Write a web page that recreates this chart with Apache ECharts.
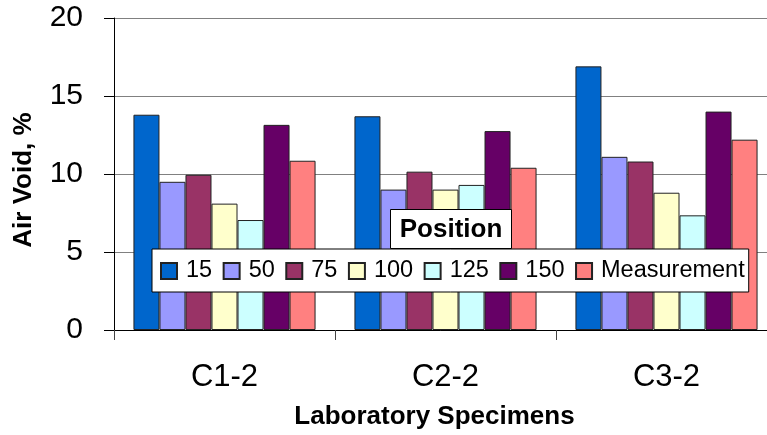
<!DOCTYPE html>
<html>
<head>
<meta charset="utf-8">
<script src="https://cdn.jsdelivr.net/npm/echarts@6/dist/echarts.min.js"></script>
<style>html,body{margin:0;padding:0;background:#fff}#c{width:767px;height:435px}</style>
</head>
<body>
<div id="c"></div>
<script>
const categories = ['C1-2', 'C2-2', 'C3-2'];
const seriesNames = ['15', '50', '75', '100', '125', '150', 'Measurement'];
const s15 = [13.8, 13.7, 16.9];
const s50 = [9.5, 9.0, 11.1];
const s75 = [9.95, 10.15, 10.8];
const s100 = [8.1, 9.0, 8.8];
const s125 = [7.05, 9.3, 7.35];
const s150 = [13.15, 12.75, 14.0];
const sMeas = [10.85, 10.4, 12.2];
const yTicks = [0, 5, 10, 15, 20];
const colors = ['#0066CC', '#9999FF', '#993366', '#FFFFCC', '#CCFFFF', '#660066', '#FF8080'];
const values = [s15, s50, s75, s100, s125, s150, sMeas];

const chart = echarts.init(document.getElementById('c'), null, {renderer: 'canvas'});
const FONT = 'Liberation Sans, Arial, sans-serif';
chart.setOption({
  animation: false,
  textStyle: {fontFamily: FONT},
  grid: {left: 114, top: 18, width: 663, height: 312, containLabel: false, outerBoundsMode: 'none'},
  legend: {
    data: seriesNames,
    left: 152, top: 249,
    padding: [10, 4, 9, 8],
    itemWidth: 16, itemHeight: 16, itemGap: 10.5,
    backgroundColor: '#fff', borderColor: '#000', borderWidth: 1, borderRadius: 0,
    icon: 'rect',
    textStyle: {fontSize: 23.5, color: '#000', fontFamily: FONT, padding: [0, 0, 0, 4]}
  },
  graphic: [
    {type: 'rect', z: 100, shape: {x: 390.5, y: 209.5, width: 121, height: 39}, style: {fill: '#fff', stroke: '#000', lineWidth: 1}},
    {type: 'text', z: 101, x: 451, y: 229.5, style: {text: 'Position', fontSize: 26, fontWeight: 'bold', fontFamily: FONT, fill: '#000', align: 'center', verticalAlign: 'middle'}}
  ],
  xAxis: {
    type: 'category', data: categories,
    name: 'Laboratory Specimens', nameLocation: 'middle', nameGap: 74,
    nameTextStyle: {fontSize: 26, fontWeight: 'bold', color: '#000', fontFamily: FONT, padding: [0, 22, 0, 0]},
    axisLine: {lineStyle: {color: '#000', width: 1}},
    axisTick: {show: true, length: 10, lineStyle: {color: '#444'}},
    axisLabel: {fontSize: 31, color: '#000', margin: 32, fontFamily: FONT},
    splitLine: {show: false}
  },
  yAxis: {
    type: 'value', min: 0, max: 20, interval: 5,
    name: 'Air Void, %', nameLocation: 'middle', nameGap: 77, nameRotate: 90,
    nameTextStyle: {fontSize: 26, fontWeight: 'bold', color: '#000', fontFamily: FONT, padding: [0, 12, 0, 0]},
    axisLine: {show: true, lineStyle: {color: '#000', width: 1}},
    axisTick: {show: true, length: 10, lineStyle: {color: '#000'}},
    axisLabel: {fontSize: 30, color: '#000', margin: 31, fontFamily: FONT,
      formatter: v => yTicks.includes(v) ? String(v) : ''},
    splitLine: {show: true, lineStyle: {color: '#808080', width: 1}}
  },
  series: seriesNames.map((n, i) => ({
    name: n, type: 'bar', data: values[i],
    barGap: '0%', barCategoryGap: '17.6%',
    itemStyle: {color: colors[i], borderColor: '#222', borderWidth: 1}
  }))
});
</script>
</body>
</html>
